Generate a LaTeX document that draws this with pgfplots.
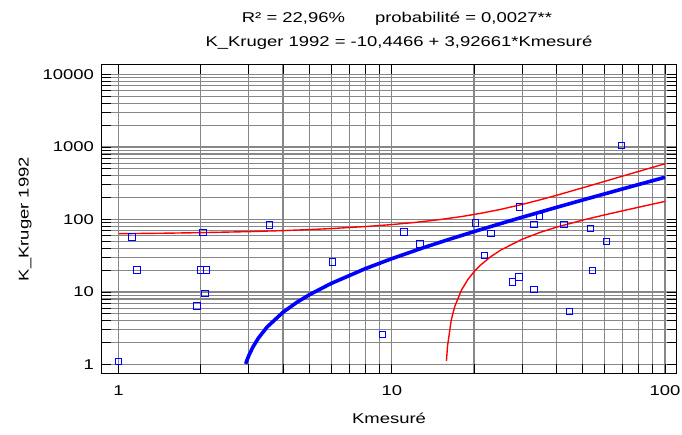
\documentclass[border=0pt]{standalone}
\usepackage{fontspec}
\setmainfont{Liberation Sans}[FakeStretch=1.3]
\usepackage{pgfplots}
\pgfplotsset{compat=1.18}

\definecolor{fitblue}{RGB}{0,0,255}
\definecolor{cired}{RGB}{255,0,0}
\definecolor{gridgray}{RGB}{135,135,135}

\begin{document}
\begin{tikzpicture}
\begin{axis}[
    name=ax, at={(0,0)}, anchor=south west,
    scale only axis, width=574pt, height=308pt,
    xmode=log, ymode=log,
    xmin=0.87, xmax=109.7, ymin=0.763, ymax=13520,
    xtick={1,10,100}, xticklabels={1,10,100},
    ytick={1,10,100,1000,10000}, yticklabels={1,10,100,1000,10000},
    minor xtick={2,3,4,5,6,7,8,9,20,30,40,50,60,70,80,90},
    minor ytick={2,3,4,5,6,7,8,9,20,30,40,50,60,70,80,90,200,300,400,500,600,700,800,900,2000,3000,4000,5000,6000,7000,8000,9000},
    grid=both,
    major grid style={gridgray, line width=1.1pt},
    minor grid style={gridgray, line width=1.1pt},
    tick align=inside, major tick length=9pt, minor tick length=9pt,
    tick style={black, line width=0.8pt},
    axis line style={black, line width=1pt},
    /pgf/number format/assume math mode=true,
    tick label style={font=\fontsize{14.2}{17}\selectfont},
    xticklabel style={yshift=-9pt},
    yticklabel style={xshift=-4.5pt},
    label style={font=\fontsize{14.2}{17}\selectfont},
    xlabel={Kmesuré}, ylabel={K\_Kruger 1992},
    xlabel style={at={(axis description cs:0.5,-0.165)}, anchor=base},
    ylabel style={at={(axis description cs:-0.134,0.5)}, anchor=center},
]
% upper confidence limit
\addplot[cired, line width=1.4pt] coordinates {
 (1,63.68) (1.5,64.75) (2,65.83) (3,68.02) (4,70.27) (5,72.58) (6,74.93)
 (8,79.86) (10,85.08) (12,90.63) (15,99.71) (18,109.80) (21,121.00)
 (25,137.73) (30,161.31) (35,187.31) (40,215.04) (50,273.72) (60,334.75)
 (70,396.99) (80,459.88) (90,523.20) (100,586.77)
};
% lower confidence limit
\addplot[cired, line width=1.4pt] coordinates {
 (15.85,1.12) (16,1.80) (16.5,4.06) (17,6.30) (18,10.66) (19,14.91)
 (20,19.03) (21,23.02) (23,30.62) (25,37.71) (30,53.39) (35,66.66)
 (40,78.20) (50,98.04) (60,115.55) (70,131.85) (80,147.48) (90,162.70)
 (100,177.65)
};
% fitted line
\addplot[fitblue, line width=3.6pt] coordinates {
 (2.92,1.019) (2.95,1.137) (3,1.333) (3.1,1.726) (3.25,2.315) (3.5,3.297)
 (4,5.260) (4.5,7.223) (5,9.187) (6,13.113) (8,20.966) (10,28.820)
 (13,40.599) (16,52.379) (20,68.086) (25,87.719) (30,107.352)
 (40,146.618) (50,185.884) (70,264.416) (100,382.214)
};
% observations
\addplot[only marks, mark=square, mark size=3.2pt,
         mark options={draw=fitblue, fill=none, solid, line width=1pt}] coordinates {
 (1,1.1) (1.12,57) (1.17,20) (1.94,6.4) (2.0,20) (2.1,20) (2.04,66)
 (2.07,9.5) (3.56,84) (6.06,26) (9.25,2.6) (11.1,67) (12.7,46)
 (20.3,90) (21.9,32) (23.1,64) (27.7,13.7) (29.2,16) (29.3,149)
 (33.2,85) (33.2,10.8) (34.8,111) (42.7,85) (44.8,5.35) (53.4,75)
 (54.2,19.7) (61.1,50) (69.4,1055)
};
\end{axis}
\node[anchor=base, font=\fontsize{14.2}{17}\selectfont] at (295pt,350pt)
  {R² = 22,96\%\hspace{30pt}probabilité = 0,0027**};
\node[anchor=base, font=\fontsize{14.2}{17}\selectfont] at (297pt,326pt)
  {K\_Kruger 1992 = -10,4466 + 3,92661*Kmesuré};
\pgfresetboundingbox
\path (-102pt,-61pt) rectangle (580pt,373pt);
\end{tikzpicture}
\end{document}
